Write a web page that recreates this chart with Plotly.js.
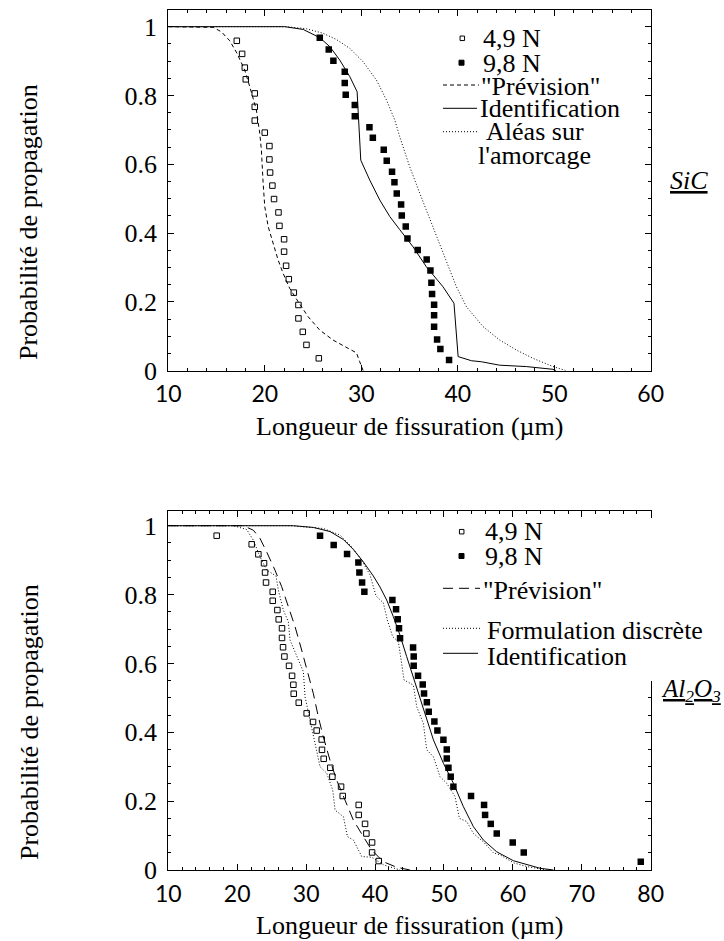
<!DOCTYPE html>
<html><head><meta charset="utf-8">
<script src="https://cdn.plot.ly/plotly-3.0.1.min.js"></script>
<style>html,body{margin:0;padding:0;background:#fff}#chart{width:724px;height:941px}</style>
</head><body><div id="chart"></div>
<script>
// ---------- SiC (top panel) ----------
const sic49X = [17.10,17.65,17.93,18.03,18.96,18.96,18.96,20.00,20.48,20.48,20.55,20.79,20.96,21.42,21.52,22.00,22.00,22.21,22.49,23.01,23.49,23.49,23.94,24.32,25.60];
const sic49Y = [0.959,0.921,0.881,0.847,0.806,0.767,0.727,0.692,0.653,0.614,0.576,0.538,0.499,0.460,0.421,0.382,0.346,0.305,0.266,0.227,0.191,0.152,0.113,0.075,0.036];
const sic98X = [25.70,26.63,27.11,28.29,28.29,28.39,29.33,29.33,30.85,31.20,32.33,32.64,33.19,33.44,33.68,34.13,34.20,34.61,34.79,35.85,36.78,37.17,37.27,37.34,37.55,37.55,37.55,37.86,38.20,39.10];
const sic98Y = [0.968,0.934,0.901,0.869,0.836,0.802,0.772,0.740,0.708,0.677,0.642,0.610,0.578,0.548,0.515,0.483,0.451,0.419,0.384,0.351,0.323,0.291,0.256,0.223,0.192,0.161,0.128,0.091,0.063,0.031];
const sicPrevX = [10,13.96,14.65,15.51,16.37,17.13,17.92,18.44,19.13,19.48,19.65,19.83,20.00,20.35,20.86,21.38,21.90,22.59,23.45,24.49,25.70,27.08,28.64,29.50,29.84,30.2];
const sicPrevY = [1,1,0.998,0.985,0.959,0.922,0.874,0.826,0.758,0.690,0.641,0.545,0.477,0.419,0.370,0.322,0.283,0.239,0.201,0.157,0.118,0.089,0.065,0.052,0.026,0];
const sicIdentX = [10,22.07,23.98,25.70,26.74,27.77,28.81,29.57,29.95,30.88,31.92,32.96,33.99,35.37,36.75,38.47,39.61,40.04,41.42,42.45,44.35,47.11,49.87,50.2];
const sicIdentY = [1,1,0.992,0.968,0.942,0.903,0.855,0.811,0.612,0.554,0.496,0.448,0.410,0.360,0.302,0.244,0.196,0.041,0.029,0.026,0.016,0.012,0.004,0];
const sicAleaX = [10,22.24,24.31,26.03,27.41,28.81,30.19,31.57,32.61,33.47,33.99,35.02,36.06,37.44,38.82,39.86,40.90,42.63,44.35,46.08,47.80,49.87,51.25];
const sicAleaY = [1,1,0.994,0.981,0.963,0.937,0.898,0.845,0.787,0.729,0.680,0.593,0.516,0.419,0.322,0.244,0.186,0.128,0.089,0.060,0.036,0.012,0];

// ---------- Al2O3 (bottom panel) ----------
const al49X = [17.02,22.10,23.07,23.89,24.04,24.18,25.15,25.15,25.83,26.02,26.50,26.50,26.65,26.85,27.52,27.96,28.15,28.20,28.93,30.08,31.00,31.53,32.26,32.30,32.55,33.51,33.81,35.07,35.31,37.63,37.63,38.55,38.74,39.57,39.57,40.54];
const al49Y = [0.971,0.946,0.917,0.891,0.864,0.835,0.808,0.782,0.755,0.728,0.702,0.674,0.647,0.620,0.593,0.564,0.538,0.512,0.486,0.455,0.430,0.405,0.379,0.349,0.323,0.297,0.271,0.242,0.215,0.189,0.160,0.134,0.106,0.080,0.051,0.026];
const al98X = [32.02,34.00,35.94,37.58,37.73,38.12,38.45,42.52,43.05,43.29,43.48,43.63,45.52,45.61,45.61,46.24,46.92,47.11,47.52,47.79,48.61,49.05,49.92,50.41,50.41,50.65,50.98,51.37,53.93,55.82,55.97,56.79,57.66,59.98,61.58,78.56];
const al98Y = [0.971,0.944,0.918,0.893,0.864,0.835,0.808,0.784,0.757,0.728,0.702,0.673,0.646,0.620,0.593,0.564,0.539,0.513,0.487,0.460,0.431,0.405,0.378,0.350,0.324,0.297,0.271,0.242,0.215,0.189,0.160,0.134,0.106,0.080,0.051,0.024];
const alPrevX = [10,20.89,22.34,23.31,24.27,25.48,26.45,27.42,28.39,29.35,30.08,31.04,31.77,32.49,33.46,34.43,35.64,36.85,38.30,39.51,41.20,43.14,45.07];
const alPrevY = [1,1,0.987,0.963,0.924,0.871,0.823,0.765,0.707,0.639,0.581,0.513,0.445,0.387,0.319,0.261,0.203,0.145,0.097,0.058,0.024,0.008,0];
const alDisc49X = [10,19.44,21.37,22.34,23.31,24.27,25.63,25.97,26.69,27.42,27.66,28.63,29.60,29.84,30.56,31.29,32.02,32.99,33.86,34.20,35.41,35.99,36.86,38.07,39.52,41.22,43.64];
const alDisc49Y = [1,1,0.989,0.958,0.910,0.871,0.854,0.813,0.755,0.721,0.668,0.620,0.576,0.503,0.436,0.368,0.300,0.281,0.232,0.174,0.155,0.097,0.087,0.039,0.037,0.015,0];
const alIdentX = [10,28.15,31.05,33.47,35.40,36.85,38.30,39.75,40.72,41.69,42.65,43.62,44.59,45.56,46.52,47.49,48.47,49.92,51.37,52.82,54.27,55.72,57.65,60.07,62.01,63.94,65.88];
const alIdentY = [1,1,0.995,0.983,0.960,0.931,0.895,0.854,0.822,0.784,0.736,0.682,0.620,0.561,0.500,0.440,0.378,0.310,0.252,0.184,0.126,0.087,0.053,0.027,0.015,0.005,0];
const alDisc98X = [10,27.66,32.49,34.91,36.60,38.06,39.27,40.14,41.20,41.78,42.56,43.38,43.86,44.20,45.56,46.05,47.01,47.50,48.47,49.43,50.40,51.61,52.24,53.30,54.27,55.72,57.17,58.14,60.07,62.01,64.91];
const alDisc98Y = [1,1,0.992,0.973,0.939,0.900,0.857,0.796,0.776,0.726,0.678,0.663,0.600,0.552,0.537,0.474,0.426,0.349,0.329,0.271,0.252,0.213,0.150,0.141,0.106,0.082,0.050,0.044,0.021,0.010,0];

// ---------- text ----------
const yTitle = 'Probabilité de propagation';
const xTitle = 'Longueur de fissuration (µm)';
const legTop = ['4,9 N', '9,8 N', '"Prévision"', 'Identification', ' Aléas sur', "l'amorcage"];
const legBot = ['4,9 N', '9,8 N', '"Prévision"', 'Formulation discrète', 'Identification'];

const W = 724, H = 941;
const PX = v => v / W;
const PY = v => 1 - v / H;
const SERIF = 'Liberation Serif';
const SANS = 'Lato';

const DASH_SHORT = '4px,3px';
const DASH_LONG = '10px,6px';
const DOTS = '1px,2px';

function pts(x, y, open, xa, ya) {
  return {x, y, xaxis: xa, yaxis: ya, type: 'scatter', mode: 'markers', showlegend: false, hoverinfo: 'skip',
    marker: open ? {symbol: 'square-open', size: 5.5, color: '#000', line: {width: 1, color: '#000'}}
                 : {symbol: 'square', size: 6.5, color: '#000', line: {width: 0}}};
}
function line(x, y, dash, xa, ya) {
  return {x, y, xaxis: xa, yaxis: ya, type: 'scatter', mode: 'lines', showlegend: false, hoverinfo: 'skip',
    line: {color: '#000', width: 1, dash}};
}

const data = [
  line(sicPrevX, sicPrevY, DASH_SHORT, 'x', 'y'),
  line(sicIdentX, sicIdentY, 'solid', 'x', 'y'),
  line(sicAleaX, sicAleaY, DOTS, 'x', 'y'),
  pts(sic49X, sic49Y, true, 'x', 'y'),
  pts(sic98X, sic98Y, false, 'x', 'y'),
  line(alPrevX, alPrevY, DASH_LONG, 'x2', 'y2'),
  line(alDisc49X, alDisc49Y, DOTS, 'x2', 'y2'),
  line(alIdentX, alIdentY, 'solid', 'x2', 'y2'),
  line(alDisc98X, alDisc98Y, DOTS, 'x2', 'y2'),
  pts(al49X, al49Y, true, 'x2', 'y2'),
  pts(al98X, al98Y, false, 'x2', 'y2')
];

function xax(range, anchor) {
  return {domain: [PX(168.3), PX(650.7)], range, anchor, tick0: 10, dtick: 10,
    ticks: 'inside', ticklen: 6, tickwidth: 1, tickcolor: '#000', mirror: 'ticks', showline: true,
    linecolor: '#000', linewidth: 1, showgrid: false, zeroline: false,
    minor: {dtick: 2, tick0: 10, ticks: 'inside', ticklen: 3, tickwidth: 1, tickcolor: '#000', showgrid: false},
    tickfont: {family: SANS, size: 23, color: '#000'}, ticklabelstandoff: 3};
}
function yax(domain, range, anchor) {
  return {domain, range, anchor, tick0: 0, dtick: 0.2,
    ticks: 'inside', ticklen: 6, tickwidth: 1, tickcolor: '#000', mirror: 'ticks', showline: true,
    linecolor: '#000', linewidth: 1, showgrid: false, zeroline: false,
    minor: {dtick: 0.05, tick0: 0, ticks: 'inside', ticklen: 3, tickwidth: 1, tickcolor: '#000', showgrid: false},
    tickfont: {family: SERIF, size: 26, color: '#000'}, ticklabelstandoff: 5};
}

const annotations = [];
const shapes = [];
function txt(text, x, y, opts) {
  annotations.push(Object.assign({text, x: PX(x), y: PY(y), xref: 'paper', yref: 'paper', showarrow: false,
    xanchor: 'left', yanchor: 'middle', font: {family: SERIF, size: 26, color: '#000'}}, opts || {}));
}
function hseg(x0, x1, y, dash) {
  shapes.push({type: 'line', xref: 'paper', yref: 'paper', x0: PX(x0), x1: PX(x1), y0: PY(y), y1: PY(y),
    line: {color: '#000', width: 1, dash}});
}
function sq(cx, cy, s, filled) {
  shapes.push({type: 'rect', xref: 'paper', yref: 'paper', x0: PX(cx - s / 2), x1: PX(cx + s / 2),
    y0: PY(cy + s / 2), y1: PY(cy - s / 2), fillcolor: filled ? '#000' : '#fff',
    line: {color: '#000', width: 1}});
}

// axis titles
[222, 722].forEach(c => txt(yTitle, 29, c, {xanchor: 'center', textangle: -90}));
[426, 925].forEach(c => txt(xTitle, 409.5, c, {xanchor: 'center'}));

// material labels
txt('<i><u>SiC</u></i>', 689, 181, {xanchor: 'center'});
txt('<i><u>Al<sub>2</sub>O<sub>3</sub></u></i>', 659, 690, {font: {family: SERIF, size: 25, color: '#000'}});

// white patch where the lower legend covers the frame
shapes.push({type: 'rect', xref: 'paper', yref: 'paper', x0: PX(640), x1: PX(656), y0: PY(681), y1: PY(518),
  fillcolor: '#fff', line: {width: 0}, layer: 'above'});

// top legend
sq(462.3, 38.3, 4.5, false); txt(legTop[0], 481, 38.7);
sq(461.5, 62.7, 5, true);    txt(legTop[1], 481, 63);
hseg(443, 479, 85, DASH_SHORT); txt(legTop[2], 479, 86);
hseg(443, 477, 108.3, 'solid'); txt(legTop[3], 478, 108.5);
hseg(443, 479, 131.7, DOTS); txt(legTop[4], 479, 131.5);
txt(legTop[5], 476, 155.5);

// bottom legend
sq(461.7, 531.7, 4.5, false); txt(legBot[0], 483, 531.5);
sq(461.5, 556, 5, true);      txt(legBot[1], 483, 556.5);
hseg(443, 480, 588.3, DASH_LONG); txt(legBot[2], 481, 590);
hseg(443, 480, 628.3, DOTS); txt(legBot[3], 485, 630);
hseg(443, 478, 653.3, 'solid'); txt(legBot[4], 485, 656);

const layout = {
  width: W, height: H, margin: {l: 0, r: 0, t: 0, b: 0},
  paper_bgcolor: '#fff', plot_bgcolor: '#fff', showlegend: false,
  font: {family: SERIF, color: '#000'},
  xaxis: xax([10, 60], 'y'),
  yaxis: yax([PY(370.7), PY(10)], [0, 1.0485], 'x'),
  xaxis2: xax([10, 80], 'y2'),
  yaxis2: yax([PY(870), PY(510.7)], [0, 1.0436], 'x2'),
  annotations, shapes
};

Plotly.newPlot('chart', data, layout, {staticPlot: true, displayModeBar: false});
</script></body></html>
